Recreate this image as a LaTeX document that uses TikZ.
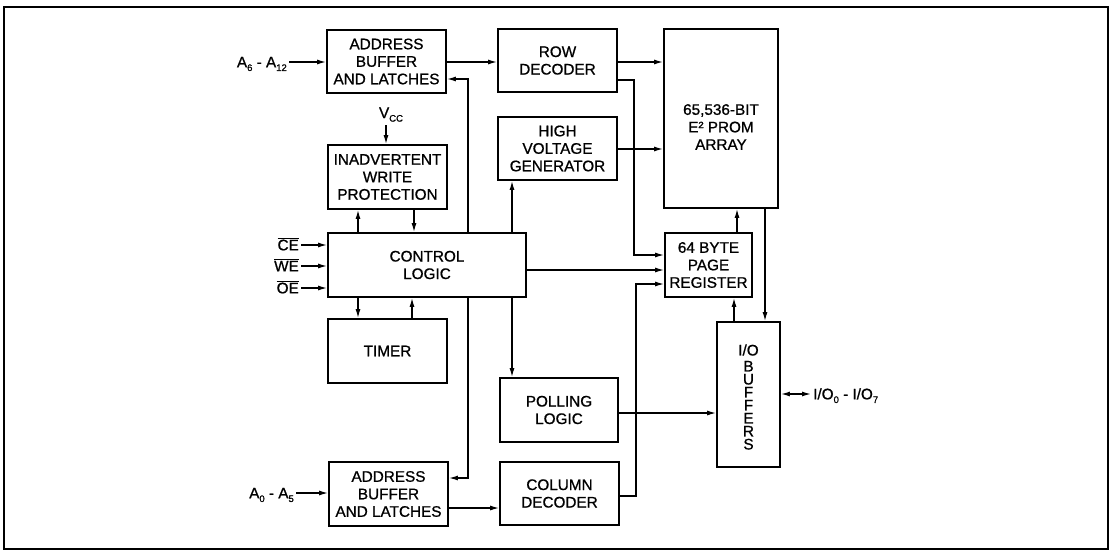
\documentclass[tikz,border=0pt]{standalone}
\usepackage{fontspec}
\setmainfont{Liberation Sans}
\newfontfamily\medfont{Liberation Sans}[FakeBold=0.9]
\usetikzlibrary{arrows.meta}
\newcommand\txtfont{\medfont\fontsize{15.3}{17.5}\selectfont}
\newcommand\sbs[1]{\raisebox{-0.45ex}{\fontsize{9.5}{10}\selectfont #1}}
\newcommand\ovl[1]{$\overline{\hbox{#1}}$}
\begin{document}
\begin{tikzpicture}[x=1pt,y=-1pt,
  box/.style={draw, line width=1.8pt, inner sep=0pt, align=center, font=\txtfont},
  con/.style={line width=1.3pt, -{Latex[length=9pt,width=5pt]}},
  dcon/.style={line width=1.3pt, {Latex[length=9pt,width=5pt]}-{Latex[length=9pt,width=5pt]}},
  lbl/.style={inner sep=2pt, font=\txtfont, text height=10.7pt, text depth=0pt}]
\fill[white] (0,0) rectangle (1113,551);
\useasboundingbox (0,0) rectangle (1113,551);
\draw[line width=1.8pt] (4,7) rectangle (1108,549);

% boxes
\node[box, minimum width=119pt, minimum height=63pt] (ab1) at (386.5,61.5) {ADDRESS\\BUFFER\\AND LATCHES};
\node[box, minimum width=119pt, minimum height=63pt] (row) at (557.5,60.5) {ROW\\DECODER};
\node[box, minimum width=114pt, minimum height=179pt] (arr) at (721,118.5) {};
\node[font=\txtfont, align=center] (arrtxt) at (721,127) {65,536-BIT\\E² PROM\\ARRAY};
\node[box, minimum width=119pt, minimum height=64pt] (iwp) at (387.5,177) {INADVERTENT\\WRITE\\PROTECTION};
\node[box, minimum width=119pt, minimum height=63pt] (hv) at (557.5,148.5) {HIGH\\VOLTAGE\\GENERATOR};
\node[box, minimum width=198pt, minimum height=64pt] (ctl) at (427,265) {CONTROL\\LOGIC};
\node[box, minimum width=87pt, minimum height=64pt] (page) at (708.5,265) {64 BYTE\\PAGE\\REGISTER};
\node[box, minimum width=119pt, minimum height=64pt] (timer) at (387.5,351) {TIMER};
\node[box, minimum width=63pt, minimum height=145pt] (io) at (748.5,394.5) {};
\node[font=\medfont\fontsize{15.3}{13}\selectfont, align=center] (iotxt) at (748.5,397) {I/O\\[3pt]B\\U\\F\\F\\E\\R\\S};
\node[box, minimum width=118pt, minimum height=64pt] (poll) at (559,410) {POLLING\\LOGIC};
\node[box, minimum width=119pt, minimum height=63pt] (col) at (559.5,493.5) {COLUMN\\DECODER};
\node[box, minimum width=119pt, minimum height=64pt] (ab2) at (388.5,494) {ADDRESS\\BUFFER\\AND LATCHES};

% labels
\node[lbl, anchor=east] (la6) at (289,62) {A\sbs{6} - A\sbs{12}};
\node[lbl, anchor=east] (la0) at (296,493) {A\sbs{0} - A\sbs{5}};
\node[lbl, anchor=east] (lce) at (301,245) {\ovl{CE}};
\node[lbl, anchor=east] (lwe) at (301,266) {\ovl{WE}};
\node[lbl, anchor=east] (loe) at (301,288) {\ovl{OE}};
\node[lbl, anchor=west] (lio) at (811,394) {I/O\sbs{0} - I/O\sbs{7}};
\node[lbl, anchor=base, text depth=5pt] (vcc) at (391,118) {V\sbs{CC}};

% connectors
\draw[con] (la6.east) -- (ab1.west |- la6.east);
\draw[con] (la0.east) -- (ab2.west |- la0.east);
\draw[con] (lce.east) -- (ctl.west |- lce.east);
\draw[con] (lwe.east) -- (ctl.west |- lwe.east);
\draw[con] (loe.east) -- (ctl.west |- loe.east);
\draw[con] (vcc.south -| 386,0) -- (iwp.north -| 386,0);

\draw[con] (ab1.east |- 0,62) -- (row.west |- 0,62);
\draw[con] (row.east |- 0,62) -- (arr.west |- 0,62);
\draw[con] (row.east |- 0,80) -- (634,80) -- (634,255) -- (page.west |- 0,255);
\draw[con] (hv.east |- 0,149) -- (arr.west |- 0,149);
\draw[con] (ctl.east |- 0,270) -- (page.west |- 0,270);
\draw[con] (col.east |- 0,496) -- (636,496) -- (636,284) -- (page.west |- 0,284);
\draw[con] (page.north -| 737,0) -- (arr.south -| 737,0);
\draw[con] (arr.south -| 765,0) -- (io.north -| 765,0);
\draw[con] (io.north -| 734,0) -- (page.south -| 734,0);
\draw[con] (poll.east |- 0,413) -- (io.west |- 0,413);
\draw[dcon] (io.east |- lio.west) -- (lio.west);

\draw[con] (ctl.north -| 468,0) -- (468,79) -- (ab1.east |- 0,79);
\draw[con] (ctl.south -| 468,0) -- (468,478) -- (ab2.east |- 0,478);
\draw[con] (ctl.north -| 512,0) -- (hv.south -| 512,0);
\draw[con] (ctl.south -| 512,0) -- (poll.north -| 512,0);
\draw[con] (ctl.north -| 358,0) -- (iwp.south -| 358,0);
\draw[con] (iwp.south -| 414,0) -- (ctl.north -| 414,0);
\draw[con] (ctl.south -| 358,0) -- (timer.north -| 358,0);
\draw[con] (timer.north -| 412,0) -- (ctl.south -| 412,0);
\draw[con] (ab2.east |- 0,508) -- (col.west |- 0,508);
\end{tikzpicture}
\end{document}
